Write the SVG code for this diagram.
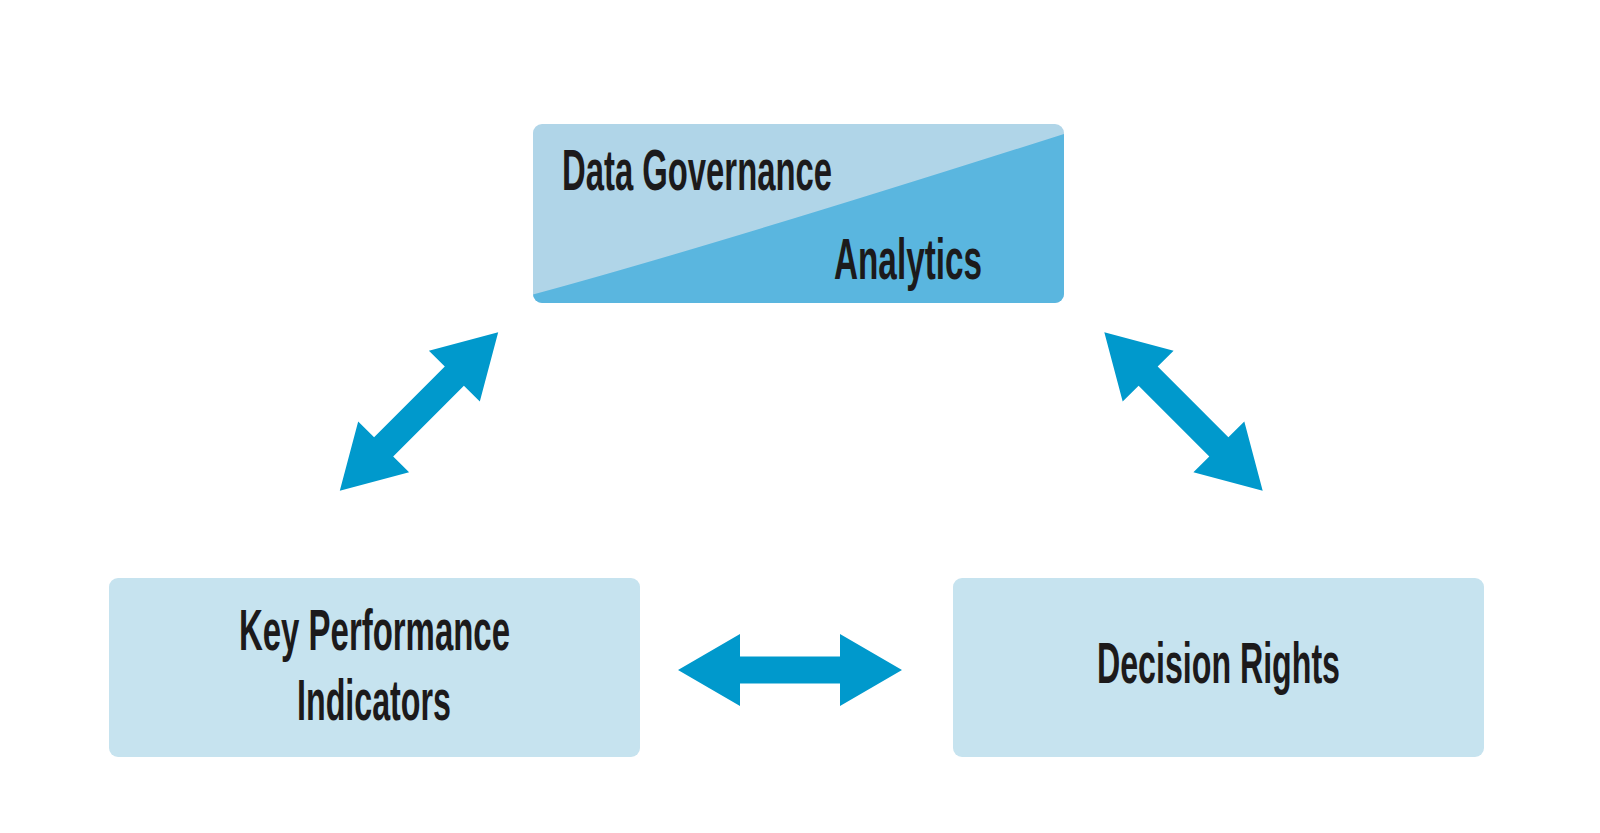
<svg xmlns="http://www.w3.org/2000/svg" width="1600" height="833" viewBox="0 0 1600 833">
  <style>
    .lbl { font-family: "Liberation Sans", Arial, sans-serif; font-weight: bold; font-size: 57px; fill: #1c1a1b; }
    .box { fill: #c6e3ef; }
    .arrow { fill: #0099cc; }
  </style>
  <defs>
    <path id="dblArrow" d="M -112,0 L -50,-36 L -50,-13.5 L 50,-13.5 L 50,-36 L 112,0 L 50,36 L 50,13.5 L -50,13.5 L -50,36 Z"/>
    <clipPath id="topClip">
      <rect x="533" y="124" width="531" height="179" rx="9" ry="9"/>
    </clipPath>
  </defs>
  <rect width="1600" height="833" fill="#ffffff"/>

  <g id="node-data-governance-analytics">
    <g clip-path="url(#topClip)">
      <rect x="533" y="124" width="531" height="179" fill="#b0d5e8"/>
      <path d="M 520,298 Q 700,250 1070,132 L 1070,310 L 520,310 Z" fill="#5ab6df"/>
    </g>
    <text class="lbl" x="562" y="190" font-size="58" textLength="270" lengthAdjust="spacingAndGlyphs">Data Governance</text>
    <text class="lbl" x="834" y="279" textLength="148" lengthAdjust="spacingAndGlyphs">Analytics</text>
  </g>

  <g id="node-kpi">
    <rect class="box" x="109" y="578" width="531" height="179" rx="9" ry="9"/>
    <text class="lbl" x="239" y="650" textLength="271" lengthAdjust="spacingAndGlyphs">Key Performance</text>
    <text class="lbl" x="297" y="720" textLength="154" lengthAdjust="spacingAndGlyphs">Indicators</text>
  </g>

  <g id="node-decision-rights">
    <rect class="box" x="953" y="578" width="531" height="179" rx="9" ry="9"/>
    <text class="lbl" x="1097" y="683" textLength="243" lengthAdjust="spacingAndGlyphs">Decision Rights</text>
  </g>

  <g id="connectors">
    <use href="#dblArrow" class="arrow" transform="translate(419,411.5) rotate(-45)"/>
    <use href="#dblArrow" class="arrow" transform="translate(1183.5,411.5) rotate(45)"/>
    <use href="#dblArrow" class="arrow" transform="translate(790,670)"/>
  </g>
</svg>
